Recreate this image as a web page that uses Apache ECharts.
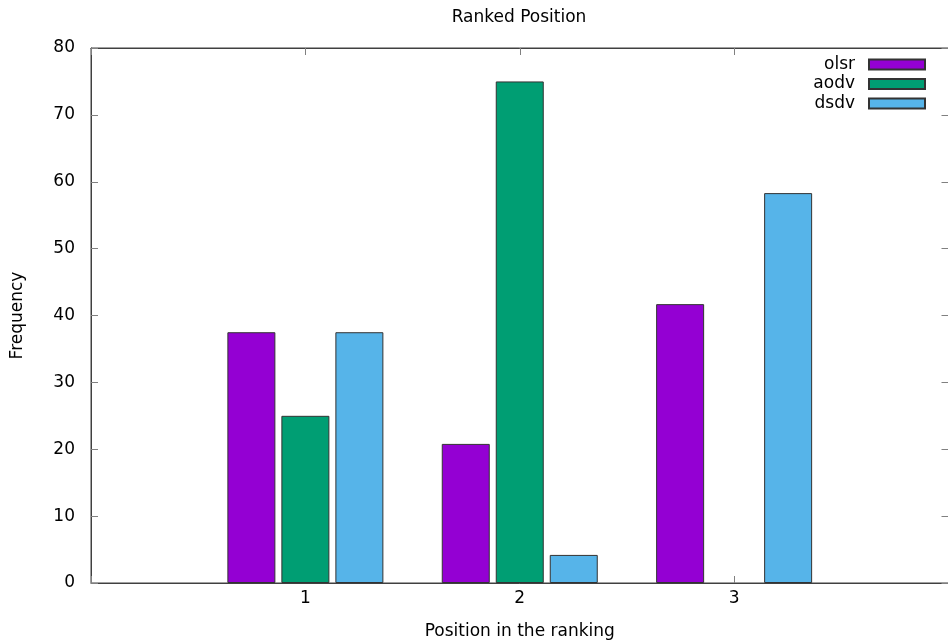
<!DOCTYPE html>
<html>
<head>
<meta charset="utf-8">
<title>Ranked Position</title>
<script src="https://cdn.jsdelivr.net/npm/echarts@6/dist/echarts.min.js"></script>
<style>
  html, body { margin: 0; padding: 0; background: #fff; }
  #chart { width: 948px; height: 640px; }
</style>
</head>
<body>
<div id="chart"></div>
<script>
// Ranking positions on the x axis
const positions = [1, 2, 3];
// Frequency (%) with which each protocol obtained each position
const olsr = [37.5, 20.8, 41.7];
const aodv = [25.0, 75.0, 0.0];
const dsdv = [37.5, 4.2, 58.3];
const seriesNames = ['olsr', 'aodv', 'dsdv'];
const seriesColors = ['#9400d3', '#009e73', '#56b4e9'];
const yTicks = [0, 10, 20, 30, 40, 50, 60, 70, 80];

const FONT = 'DejaVu Sans';
const FS = 17;
const chart = echarts.init(document.getElementById('chart'), null, { renderer: 'canvas' });

const allValues = [olsr, aodv, dsdv];
// empty bars get no outline so they do not draw a stub on the baseline
const toPoints = vals => positions.map((p, i) => (
  vals[i] === 0
    ? { value: [p, vals[i]], itemStyle: { borderWidth: 0 } }
    : { value: [p, vals[i]] }
));

const makeTick = () => ({ show: true, inside: true, length: 7, lineStyle: { color: '#808080', width: 1 } });
const makeLine = () => ({ show: true, onZero: false, lineStyle: { color: '#404040', width: 1 } });

const option = {
  animation: false,
  title: {
    text: 'Ranked Position',
    left: 514, top: 4, textAlign: 'center',
    textStyle: { fontFamily: FONT, fontSize: FS, fontWeight: 'normal', color: '#000' }
  },
  legend: {
    orient: 'vertical',
    right: 22, top: 56,
    padding: 0,
    align: 'right',
    itemWidth: 56, itemHeight: 10, itemGap: 2.5,
    data: seriesNames,
    textStyle: { fontFamily: FONT, fontSize: FS, color: '#000', lineHeight: 17, padding: [0, 9, 0, 0] },
    icon: 'rect'
  },
  grid: {
    left: 91, top: 48, width: 857.5, height: 535,
    containLabel: false, outerBoundsMode: 'none',
    show: true, borderColor: '#404040', borderWidth: 1
  },
  xAxis: [{
    type: 'value', min: 0, max: 4, interval: 1, position: 'bottom',
    name: 'Position in the ranking', nameLocation: 'middle', nameGap: 40,
    nameTextStyle: { fontFamily: FONT, fontSize: FS, color: '#000' },
    axisLine: makeLine(),
    axisTick: makeTick(),
    splitLine: { show: false },
    axisLabel: {
      fontFamily: FONT, fontSize: FS, color: '#000', margin: 7,
      formatter: v => (positions.indexOf(v) >= 0 ? String(v) : '')
    }
  }, {
    type: 'value', min: 0, max: 4, interval: 1, position: 'top',
    axisLine: makeLine(),
    axisTick: makeTick(),
    splitLine: { show: false },
    axisLabel: { show: false }
  }],
  yAxis: [{
    type: 'value', min: 0, max: 80, interval: 10, position: 'left',
    name: 'Frequency', nameLocation: 'middle', nameGap: 65, nameRotate: 90,
    nameTextStyle: { fontFamily: FONT, fontSize: FS, color: '#000' },
    axisLine: makeLine(),
    axisTick: makeTick(),
    splitLine: { show: false },
    axisLabel: {
      fontFamily: FONT, fontSize: FS, color: '#000', margin: 16,
      formatter: v => (yTicks.indexOf(v) >= 0 ? String(v) : '')
    }
  }, {
    type: 'value', min: 0, max: 80, interval: 10, position: 'right',
    axisLine: makeLine(),
    axisTick: makeTick(),
    splitLine: { show: false },
    axisLabel: { show: false }
  }],
  series: seriesNames.map((name, i) => ({
    name: name,
    type: 'bar',
    xAxisIndex: 0, yAxisIndex: 0,
    barWidth: 48,
    barGap: '12.5%',
    itemStyle: { color: seriesColors[i], borderColor: '#333', borderWidth: 1 },
    data: toPoints(allValues[i])
  }))
};

chart.setOption(option);
</script>
</body>
</html>
